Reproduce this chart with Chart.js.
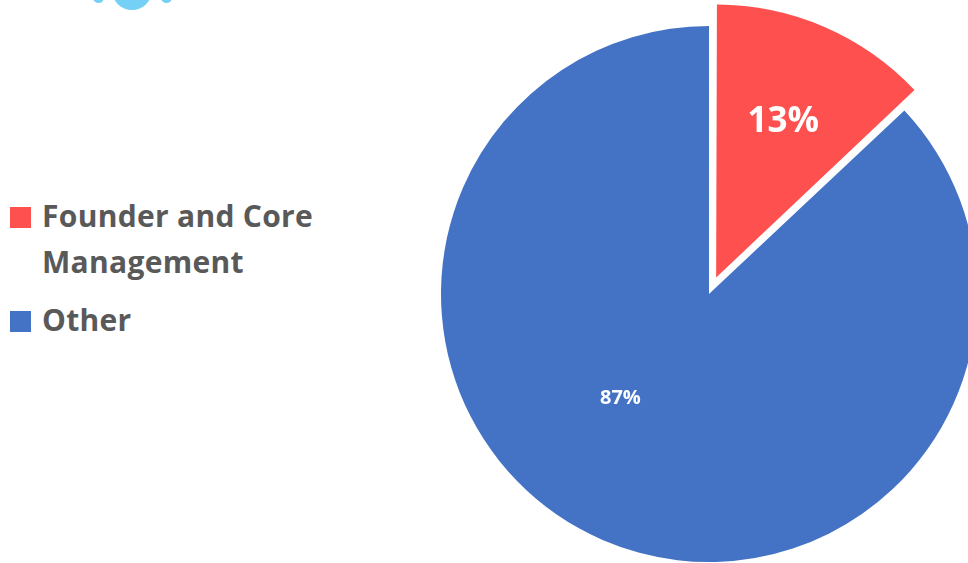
<!DOCTYPE html>
<html>
<head>
<meta charset="utf-8">
<script src="https://cdn.jsdelivr.net/npm/chart.js@4"></script>
<style>
  html, body { margin: 0; padding: 0; background: #fff; }
  body { width: 968px; height: 563px; overflow: hidden; position: relative; }
  #pie { position: absolute; left: 405px; top: -10px; }
  #legend { position: absolute; left: 10px; top: 193px; width: 330px;
    font-family: "Open Sans", sans-serif; font-weight: 700; font-size: 30px;
    letter-spacing: 0.3px; color: #595959; line-height: 46px; }
  .item { position: relative; padding-left: 32px; margin-bottom: 12px; }
  .box { position: absolute; left: 0; top: 14px; width: 21px; height: 21px; }
  .blob { position: absolute; background: #75d0f5; border-radius: 50%; }
</style>
</head>
<body>
<!-- cut-off logo at the top edge -->
<div class="blob" style="left:112px; top:-30px; width:40px; height:40px;"></div>
<div class="blob" style="left:93px; top:-8px; width:11px; height:11px;"></div>
<div class="blob" style="left:161px; top:-8px; width:11px; height:11px;"></div>

<div id="legend"></div>
<canvas id="pie" width="608" height="608"></canvas>

<script>
const categories = ["Founder and Core Management", "Other"];
const shares = [13, 87];
const sliceColors = ["#ff5050", "#4472c4"];
// how far each slice is pulled out, px (chart.js moves an arc by offset/4)
const slicePull = [18, 0];
// label placement: fraction of radius, extra angle (deg), font size
const labelRadius = [0.63, 0.51];
const labelTurn = [0, 17];
const labelSize = [35, 20];

const sliceLabels = {
  id: "sliceLabels",
  afterDatasetsDraw(chart) {
    const ctx = chart.ctx;
    const meta = chart.getDatasetMeta(0);
    const total = shares.reduce((a, b) => a + b, 0);
    ctx.save();
    ctx.fillStyle = "#fff";
    ctx.textAlign = "center";
    ctx.textBaseline = "middle";
    meta.data.forEach((arc, i) => {
      const p = arc.getProps(["x", "y", "startAngle", "endAngle", "outerRadius"], true);
      const mid = (p.startAngle + p.endAngle) / 2;
      const off = (arc.options.offset || 0) / 4;
      const cx = p.x + Math.cos(mid) * off;
      const cy = p.y + Math.sin(mid) * off;
      const a = mid + labelTurn[i] * Math.PI / 180;
      const r = p.outerRadius * labelRadius[i];
      ctx.font = "700 " + labelSize[i] + "px 'Open Sans', sans-serif";
      ctx.fillText(Math.round(shares[i] / total * 100) + "%", cx + Math.cos(a) * r, cy + Math.sin(a) * r);
    });
    ctx.restore();
  }
};

const chart = new Chart(document.getElementById("pie"), {
  type: "pie",
  data: {
    labels: categories,
    datasets: [{
      data: shares,
      backgroundColor: sliceColors,
      borderWidth: 0,
      offset: slicePull.map(v => v * 4),
      hoverOffset: 0
    }]
  },
  options: {
    responsive: false,
    animation: false,
    layout: { padding: 0 },
    plugins: {
      legend: { display: false },
      tooltip: { enabled: false }
    }
  },
  plugins: [sliceLabels]
});

// html legend from the chart data
const legend = document.getElementById("legend");
chart.data.labels.forEach((name, i) => {
  const item = document.createElement("div");
  item.className = "item";
  const box = document.createElement("span");
  box.className = "box";
  box.style.background = chart.data.datasets[0].backgroundColor[i];
  item.appendChild(box);
  item.appendChild(document.createTextNode(name));
  legend.appendChild(item);
});
</script>
</body>
</html>
